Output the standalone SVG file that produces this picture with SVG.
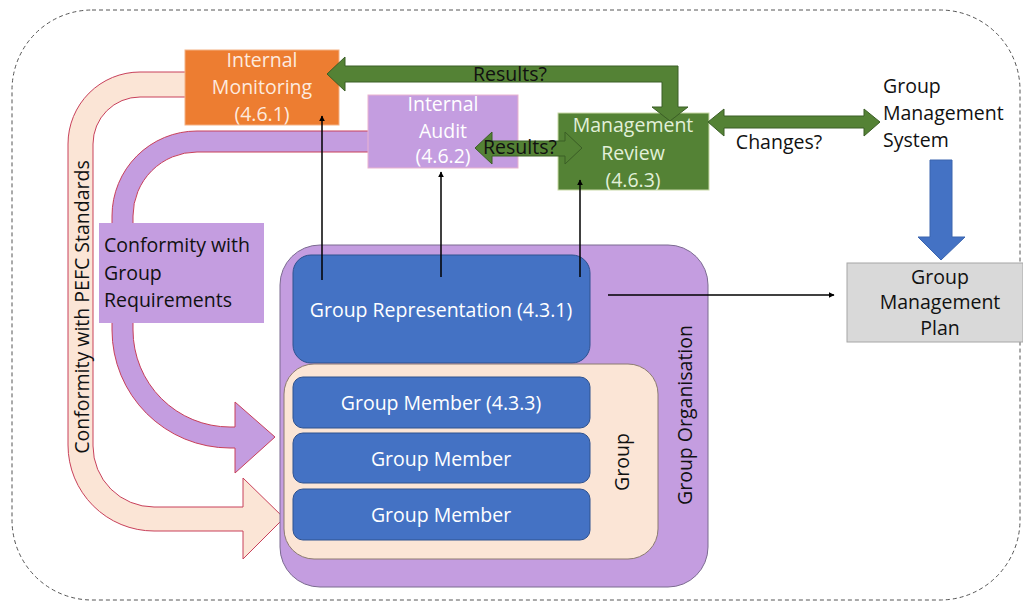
<svg xmlns="http://www.w3.org/2000/svg" width="1023" height="608" viewBox="0 0 1023 608">
<defs>
<style>
.t{font-family:"Open Sans","Noto Sans",sans-serif;font-size:19.5px}
.w{fill:#ffffff}
.k{fill:#111111}
.blue{fill:#4472C4;stroke:#2F528F;stroke-width:1}
.thin{stroke:#000;stroke-width:1.5;fill:none;marker-end:url(#ah)}
.garrow{fill:#548235;stroke:#3B5E26;stroke-width:1}
</style>
<marker id="ah" viewBox="0 0 10 10" refX="9" refY="5" markerWidth="6" markerHeight="6" orient="auto" markerUnits="userSpaceOnUse"><path d="M0,0 L10,5 L0,10 Z" fill="#000"/></marker>
</defs>
<rect width="1023" height="608" fill="#fff"/>
<rect x="12" y="10" width="1008" height="590" rx="80" ry="80" fill="none" stroke="#555" stroke-width="1" stroke-dasharray="4,3"/>

<g id="flow-arcs">
<path id="pefc-arc" d="M200,72 L140,72 A72,72 0 0 0 68,144 L68,445 A86,86 0 0 0 154,531 L243,531 L243,559 L284,518 L243,478 L243,507 L154,507 A61,61 0 0 1 93,446 L93,144 A47,47 0 0 1 140,97 L200,97 Z" fill="#FBE5D6" stroke="#C8405A" stroke-width="1"/>
<path id="group-arc" d="M380,131 L197,131 A85,85 0 0 0 112,216 L112,330 A118,118 0 0 0 230,448 L235,448 L235,473 L275,437 L235,402 L235,427 L230,427 A97,97 0 0 1 133,330 L133,216 A64,64 0 0 1 197,152 L380,152 Z" fill="#C49DE0" stroke="#C8405A" stroke-width="1"/>
<text class="t k" transform="translate(81,307) rotate(-90)" text-anchor="middle" dominant-baseline="central">Conformity with PEFC Standards</text>
</g>

<g id="internal-monitoring">
<rect x="185" y="50" width="154" height="75" fill="#ED7D31" stroke="#F4B183" stroke-width="1"/>
<text class="t" fill="#FDEADF" text-anchor="middle" x="262" y="67">Internal</text>
<text class="t" fill="#FDEADF" text-anchor="middle" x="262" y="94">Monitoring</text>
<text class="t" fill="#FDEADF" text-anchor="middle" x="262" y="121">(4.6.1)</text>
</g>

<g id="internal-audit">
<rect x="368" y="95" width="150" height="73" fill="#C49DE0" stroke="#E9B3CF" stroke-width="1"/>
<text class="t w" text-anchor="middle" x="443" y="111">Internal</text>
<text class="t w" text-anchor="middle" x="443" y="138">Audit</text>
<text class="t w" text-anchor="middle" x="443" y="163">(4.6.2)</text>
</g>

<g id="management-review">
<rect x="558" y="113" width="151" height="77" fill="#548235" stroke="#C9D9A8" stroke-width="1"/>
<text class="t" fill="#E2F0D9" text-anchor="middle" x="633" y="132">Management</text>
<text class="t" fill="#E2F0D9" text-anchor="middle" x="633" y="160">Review</text>
<text class="t" fill="#E2F0D9" text-anchor="middle" x="633" y="187">(4.6.3)</text>
</g>

<g id="group-management-system">
<text class="t k" x="883" y="93">Group</text>
<text class="t k" x="883" y="120">Management</text>
<text class="t k" x="883" y="147">System</text>
</g>

<g id="group-management-plan">
<rect x="847" y="263" width="176" height="79" fill="#D9D9D9" stroke="#A6A6A6" stroke-width="1"/>
<text class="t k" text-anchor="middle" x="940" y="284">Group</text>
<text class="t k" text-anchor="middle" x="940" y="309">Management</text>
<text class="t k" text-anchor="middle" x="940" y="335">Plan</text>
</g>

<g id="group-organisation">
<rect x="280" y="245" width="428" height="342" rx="40" ry="40" fill="#C49DE0" stroke="#7B6A90" stroke-width="1"/>
<text class="t k" transform="translate(684,415) rotate(-90)" text-anchor="middle" dominant-baseline="central">Group Organisation</text>
</g>

<g id="group-representation">
<rect class="blue" x="293" y="255" width="297" height="108" rx="18" ry="18"/>
<text class="t w" text-anchor="middle" dominant-baseline="central" x="441" y="309">Group Representation (4.3.1)</text>
</g>

<g id="group">
<rect x="284" y="364" width="374" height="195" rx="30" ry="30" fill="#FBE5D6" stroke="#8C7B70" stroke-width="1"/>
<text class="t k" transform="translate(621,462) rotate(-90)" text-anchor="middle" dominant-baseline="central">Group</text>
</g>

<g id="group-member-1">
<rect class="blue" x="293" y="377" width="297" height="51" rx="10" ry="10"/>
<text class="t w" text-anchor="middle" dominant-baseline="central" x="441" y="402">Group Member (4.3.3)</text>
</g>
<g id="group-member-2">
<rect class="blue" x="293" y="433" width="297" height="50" rx="10" ry="10"/>
<text class="t w" text-anchor="middle" dominant-baseline="central" x="441" y="458">Group Member</text>
</g>
<g id="group-member-3">
<rect class="blue" x="293" y="489" width="297" height="51" rx="10" ry="10"/>
<text class="t w" text-anchor="middle" dominant-baseline="central" x="441" y="514">Group Member</text>
</g>

<g id="connectors">
<line class="thin" x1="322" y1="280" x2="322" y2="116"/>
<line class="thin" x1="441" y1="277" x2="441" y2="172"/>
<line class="thin" x1="580" y1="277" x2="580" y2="180"/>
<line class="thin" x1="608" y1="295" x2="834" y2="295"/>
<path class="garrow" d="M327,74 L345,57 L345,66 L678,66 L678,107 L688,107 L670,121 L652,107 L662,107 L662,82 L345,82 L345,91 Z"/>
<path class="garrow" d="M475,148 L492,132 L492,141 L565,141 L565,132 L582,148 L565,164 L565,156 L492,156 L492,164 Z"/>
<path class="garrow" d="M708,122 L724,109 L724,116 L864,116 L864,109 L880,122 L864,136 L864,128 L724,128 L724,136 Z"/>
<path d="M930,160 L952,160 L952,237 L965,237 L941,260 L918,237 L930,237 Z" fill="#4472C4" stroke="#3A64AE" stroke-width="1"/>
<text class="t k" text-anchor="middle" x="510" y="81">Results?</text>
<text class="t k" text-anchor="middle" x="520" y="154">Results?</text>
<text class="t k" text-anchor="middle" x="779" y="149">Changes?</text>
</g>

<g id="conformity-group-requirements">
<rect x="99" y="223" width="165" height="100" fill="#C49DE0"/>
<text class="t k" x="104" y="252">Conformity with</text>
<text class="t k" x="104" y="280">Group</text>
<text class="t k" x="104" y="307">Requirements</text>
</g>
</svg>
